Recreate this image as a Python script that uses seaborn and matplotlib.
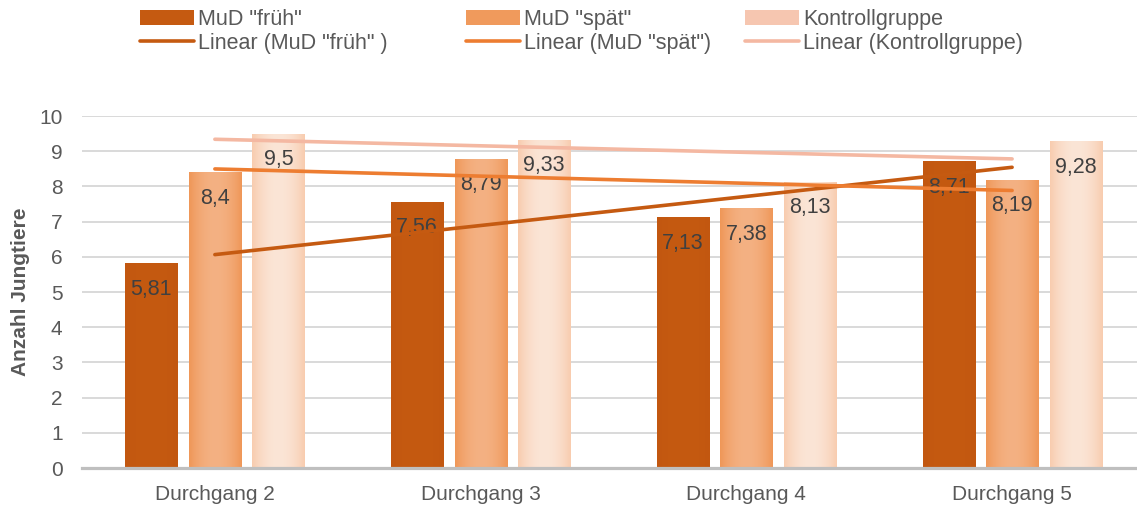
import numpy as np
import pandas as pd
import matplotlib
matplotlib.use("Agg")
import matplotlib.pyplot as plt
import seaborn as sns
from matplotlib.colors import to_rgb
from matplotlib.patches import Patch
from matplotlib.lines import Line2D

# ---- data ----
categories = ["Durchgang 2", "Durchgang 3", "Durchgang 4", "Durchgang 5"]
series_names = ['MuD "früh"', 'MuD "spät"', 'Kontrollgruppe']
trend_names = ['Linear (MuD "früh" )', 'Linear (MuD "spät")', 'Linear (Kontrollgruppe)']
frueh = [5.81, 7.56, 7.13, 8.71]
spaet = [8.40, 8.79, 7.38, 8.19]
kontrolle = [9.50, 9.33, 8.13, 9.28]
y_ticks = [0, 1, 2, 3, 4, 5, 6, 7, 8, 9, 10]
y_label = "Anzahl Jungtiere"

# ---- styles ----
bar_center = ["#C55A11", "#F4B183", "#FBE5D6"]
bar_edge = ["#C25710", "#EF9758", "#F8CCAF"]
legend_box = ["#C55A11", "#F09A5C", "#F6C6B0"]
line_cols = ["#C55A11", "#ED7D31", "#F4B8A2"]
label_col = "#404040"
tick_col = "#595959"

sns.set_theme(style="white")
plt.rcParams["font.family"] = ["Liberation Sans", "DejaVu Sans"]

df = pd.DataFrame({
    "cat": categories * 3,
    "series": sum([[s] * 4 for s in series_names], []),
    "val": frueh + spaet + kontrolle,
})

fig = plt.figure(figsize=(11.37, 5.07), dpi=100)
ax = fig.add_axes([82 / 1137, 39 / 507, 1055 / 1137, 352 / 507])

sns.barplot(data=df, x="cat", y="val", hue="series", order=categories,
            hue_order=series_names, palette=bar_center, width=0.717, gap=0.18,
            saturation=1, legend=False, ax=ax, zorder=2, linewidth=0)

# gradient fills
npx = 64
xs = np.linspace(0, 1, npx)
prof = np.abs(xs - 0.5) * 2
prof = prof ** 2.0
for i, cont in enumerate(ax.containers):
    c0 = np.array(to_rgb(bar_center[i]))
    c1 = np.array(to_rgb(bar_edge[i]))
    img = c0[None, :] + (c1 - c0)[None, :] * prof[:, None]
    img = img[None, :, :]
    for bar in cont:
        x0 = bar.get_x(); w = bar.get_width(); h = bar.get_height()
        im = ax.imshow(img, extent=(x0, x0 + w, 0, h), aspect="auto",
                       zorder=2.1, interpolation="bilinear")
        im.set_clip_path(bar)

# data labels
for i, cont in enumerate(ax.containers):
    for bar in cont:
        v = bar.get_height()
        ax.annotate(f"{v:.2f}".rstrip("0").rstrip(".").replace(".", ","),
                    (bar.get_x() + bar.get_width() / 2, v),
                    xytext=(0, -26), textcoords="offset pixels",
                    ha="center", va="center", fontsize=15.5, color=label_col,
                    zorder=3)

# linear trend lines
xpos = np.arange(len(categories))
for vals, col in zip([frueh, spaet, kontrolle], line_cols):
    sns.regplot(x=xpos, y=np.array(vals), scatter=False, ci=None, truncate=True,
                ax=ax, line_kws=dict(color=col, lw=2.6, solid_capstyle="round",
                                     zorder=4))

ax.set_xlim(-0.5, 3.47)
ax.set_ylim(0, 10)
ax.set_yticks(y_ticks)
ax.set_xticks(xpos)
ax.set_xticklabels(categories)
ax.set_xlabel("")
ax.set_ylabel("")
ax.set_axisbelow(True)
ax.grid(axis="y", color="#D9D9D9", lw=1.4)
ax.grid(axis="x", visible=False)
for s in ["top", "right", "left"]:
    ax.spines[s].set_visible(False)
ax.spines["bottom"].set_color("#BFBFBF")
ax.spines["bottom"].set_linewidth(2.3)
ax.spines["bottom"].set_zorder(5)
ax.tick_params(axis="y", length=0, pad=14, labelsize=15, labelcolor=tick_col)
ax.tick_params(axis="x", length=0, pad=12, labelsize=15, labelcolor=tick_col)

fig.text(20 / 1137, 1 - 292 / 507, y_label, rotation=90, ha="center",
         va="center", fontsize=15, fontweight="bold", color=tick_col)

# legend: three columns
col_x = [140, 466, 745]
for i in range(3):
    handles = [Patch(facecolor=legend_box[i], edgecolor="none"),
               Line2D([], [], color=line_cols[i], lw=2.6, solid_capstyle="round")]
    leg = fig.legend(handles, [series_names[i], trend_names[i]],
                     loc="upper left", bbox_to_anchor=(col_x[i] / 1137, 1 - 9 / 507),
                     frameon=False, fontsize=15.5, handlelength=2.5,
                     handletextpad=0.2, labelspacing=0.12, borderpad=0,
                     borderaxespad=0)
    for t in leg.get_texts():
        t.set_color(tick_col)

fig.savefig("out.png", dpi=100)
